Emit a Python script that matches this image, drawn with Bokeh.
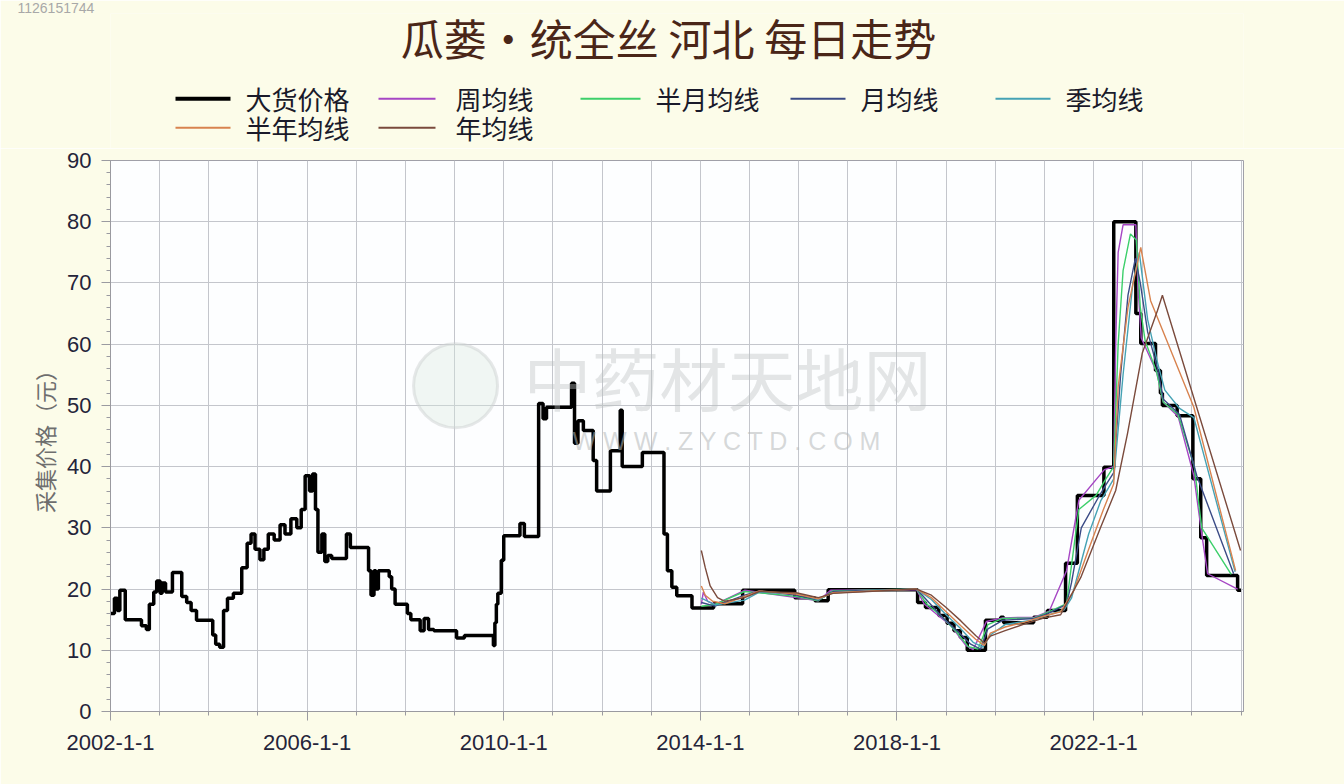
from bokeh.plotting import figure
from bokeh.layouts import column
from bokeh.models import Range1d, FixedTicker, CustomJSTickFormatter, Label
from bokeh.embed import file_html
from bokeh.resources import INLINE

# ---------------- data (decimal years, price in yuan) ----------------
price_t = [2002.01, 2002.08, 2002.14, 2002.19, 2002.30, 2002.63, 2002.73, 2002.79, 2002.88, 2002.94,
           2003.01, 2003.05, 2003.12, 2003.26, 2003.45, 2003.55, 2003.64, 2003.75, 2004.08, 2004.14,
           2004.22, 2004.30, 2004.38, 2004.50, 2004.67, 2004.78, 2004.86, 2004.94, 2005.04, 2005.12,
           2005.21, 2005.33, 2005.45, 2005.55, 2005.67, 2005.79, 2005.88, 2005.96, 2006.05, 2006.11,
           2006.17, 2006.22, 2006.30, 2006.36, 2006.42, 2006.50, 2006.80, 2006.88, 2007.25, 2007.30,
           2007.36, 2007.40, 2007.45, 2007.67, 2007.72, 2007.79, 2008.04, 2008.11, 2008.30, 2008.38,
           2008.47, 2008.58, 2009.04, 2009.20, 2009.79, 2009.82, 2009.85, 2009.88, 2009.95, 2010.00,
           2010.33, 2010.42, 2010.71, 2010.80, 2010.87, 2011.38, 2011.44, 2011.51, 2011.62, 2011.82,
           2011.89, 2012.17, 2012.37, 2012.41, 2012.82, 2013.26, 2013.33, 2013.42, 2013.52, 2013.83,
           2014.27, 2014.86, 2015.92, 2016.33, 2016.60, 2018.42, 2018.58, 2018.85, 2019.02, 2019.16,
           2019.29, 2019.43, 2019.80, 2020.11, 2020.17, 2020.78, 2021.06, 2021.43, 2021.67, 2022.21,
           2022.41, 2022.86, 2022.96, 2023.26, 2023.36, 2023.40, 2023.70, 2024.02, 2024.18, 2024.30,
           2024.93, 2025.00]
price_v = [16.0, 18.5, 16.5, 19.8, 15.0, 14.0, 13.4, 17.5, 19.5, 21.3,
           19.3, 21.0, 19.5, 22.7, 18.8, 17.8, 16.5, 14.9, 12.5, 11.0,
           10.5, 16.5, 18.5, 19.3, 23.5, 27.5, 29.0, 26.5, 24.8, 26.5,
           29.0, 28.0, 30.5, 29.0, 31.5, 30.0, 33.0, 38.5, 36.0, 38.8,
           33.0, 26.0, 29.0, 24.5, 25.5, 25.0, 29.0, 26.8, 23.0, 19.0,
           23.0, 20.0, 23.0, 22.0, 20.0, 17.5, 16.0, 15.0, 13.2, 15.2,
           13.4, 13.2, 12.0, 12.4, 10.8, 14.5, 17.5, 19.3, 24.7, 28.7,
           30.7, 28.6, 50.3, 47.8, 49.7, 53.6, 43.8, 47.5, 45.9, 41.0,
           36.0, 42.6, 49.2, 40.0, 42.3, 29.0, 23.0, 20.3, 18.9, 16.9,
           17.6, 19.8, 18.6, 18.1, 19.9, 17.8, 17.0, 15.7, 14.4, 13.2,
           12.1, 10.0, 14.9, 15.4, 14.5, 15.4, 16.5, 24.2, 35.3, 39.9,
           80.0, 65.0, 60.1, 55.7, 52.0, 50.0, 48.3, 38.0, 28.4, 22.2,
           19.8, 19.8]

week_t = [2014.02, 2014.06, 2014.15, 2014.30, 2014.90, 2015.95, 2016.40, 2016.65, 2018.40, 2018.55,
          2018.85, 2019.10, 2019.40, 2019.55, 2019.82, 2020.15, 2020.80, 2021.10, 2021.45, 2021.70,
          2022.22, 2022.41, 2022.45, 2022.50, 2022.60, 2022.86, 2022.90, 2022.97, 2023.28, 2023.42,
          2023.72, 2024.04, 2024.20, 2024.32, 2024.93]
week_v = [17.5, 19.5, 18.0, 17.5, 19.8, 18.6, 18.1, 19.8, 19.9, 17.6,
          15.6, 14.0, 10.8, 10.1, 14.7, 15.3, 15.4, 16.4, 23.0, 34.5,
          39.5, 40.0, 60.0, 75.0, 79.5, 79.5, 70.0, 61.0, 55.5, 50.5,
          48.2, 38.5, 29.0, 22.5, 20.0]

half_month_t = [2014.02, 2014.30, 2014.90, 2015.95, 2016.40, 2016.70, 2018.40, 2018.60, 2018.90, 2019.20,
                2019.45, 2019.65, 2019.85, 2020.15, 2020.80, 2021.10, 2021.45, 2021.52, 2021.70, 2022.05,
                2022.25, 2022.41, 2022.50, 2022.60, 2022.75, 2022.87, 2022.95, 2023.05, 2023.28, 2023.42,
                2023.72, 2024.05, 2024.20, 2024.80]
half_month_v = [17.2, 17.5, 19.6, 18.8, 18.1, 19.7, 20.0, 17.6, 15.6, 13.1,
                10.6, 10.2, 14.2, 15.2, 15.3, 16.3, 17.6, 22.0, 33.0, 35.3,
                38.0, 40.0, 60.0, 72.0, 78.0, 77.0, 66.0, 60.5, 55.5, 50.5,
                48.5, 40.0, 30.0, 22.4]

month_t = [2014.02, 2014.30, 2014.90, 2015.20, 2015.95, 2016.40, 2016.70, 2018.40, 2018.65, 2018.95,
           2019.25, 2019.50, 2019.70, 2019.85, 2020.15, 2020.80, 2021.10, 2021.45, 2021.55, 2021.75,
           2022.10, 2022.25, 2022.41, 2022.55, 2022.70, 2022.85, 2022.95, 2023.10, 2023.30, 2023.42,
           2023.75, 2024.10, 2024.85]
month_v = [17.8, 17.2, 19.0, 19.7, 19.0, 18.2, 19.6, 20.0, 17.8, 15.2,
           13.0, 11.0, 10.2, 13.5, 14.9, 15.2, 16.1, 17.5, 21.0, 30.0,
           35.0, 37.0, 39.0, 55.0, 68.0, 74.0, 70.0, 62.0, 56.0, 51.0,
           48.5, 38.5, 22.5]

quarter_t = [2014.02, 2014.30, 2014.90, 2015.20, 2015.95, 2016.40, 2016.70, 2018.40, 2018.70, 2019.00,
             2019.30, 2019.55, 2019.75, 2019.90, 2020.20, 2020.80, 2021.10, 2021.40, 2021.55, 2021.90,
             2022.15, 2022.30, 2022.41, 2022.60, 2022.80, 2022.93, 2023.10, 2023.30, 2023.45, 2023.75,
             2024.04, 2024.88]
quarter_v = [18.5, 17.4, 18.2, 19.5, 19.3, 18.3, 19.4, 20.0, 18.3, 15.8,
             13.5, 11.3, 10.5, 12.5, 14.2, 15.0, 15.8, 16.6, 18.5, 29.0,
             34.5, 36.5, 38.0, 55.0, 70.0, 75.0, 64.0, 57.0, 52.5, 49.5,
             48.0, 22.8]

half_year_t = [2014.02, 2014.10, 2014.25, 2014.50, 2014.90, 2015.20, 2015.95, 2016.40, 2016.70, 2018.40,
               2018.70, 2019.00, 2019.30, 2019.60, 2019.78, 2019.90, 2020.20, 2020.60, 2021.00, 2021.33,
               2021.60, 2021.90, 2022.20, 2022.41, 2022.50, 2022.70, 2022.96, 2023.16, 2024.04, 2024.89]
half_year_v = [20.5, 19.0, 18.0, 17.6, 18.8, 19.7, 19.2, 18.4, 19.4, 20.0,
               18.6, 16.3, 14.0, 11.8, 10.8, 12.8, 13.8, 14.6, 15.6, 16.3,
               19.8, 26.5, 33.0, 37.2, 53.0, 66.0, 75.8, 67.1, 49.7, 23.0]

year_t = [2014.02, 2014.10, 2014.20, 2014.35, 2014.50, 2014.90, 2015.20, 2015.95, 2016.40, 2016.70,
          2018.40, 2018.70, 2019.00, 2019.30, 2019.60, 2019.78, 2019.90, 2020.20, 2020.60, 2021.00,
          2021.33, 2021.74, 2022.14, 2022.45, 2022.69, 2022.99, 2023.30, 2023.40, 2024.99]
year_v = [26.3, 23.5, 20.5, 18.6, 18.0, 18.6, 19.6, 19.4, 18.6, 19.3,
          20.0, 19.0, 17.0, 14.8, 12.4, 11.2, 12.3, 13.2, 14.3, 15.3,
          15.8, 21.9, 30.0, 36.1, 45.4, 58.5, 65.5, 68.0, 26.3]

major_years = [2002, 2006, 2010, 2014, 2018, 2022]
all_years = list(range(2002, 2026))
y_major = [0, 10, 20, 30, 40, 50, 60, 70, 80, 90]
y_minor = list(range(0, 91, 2))

title_text = "瓜蒌·统全丝 河北 每日走势"
y_label = "采集价格（元）"
id_text = "1126151744"
series_names = ["大货价格", "周均线", "半月均线", "月均线", "季均线", "半年均线", "年均线"]
series_colors = ["#000000", "#a646c4", "#3ccf6a", "#3b4b86", "#45a2b4", "#d8834f", "#7a4a3c"]
series_widths = [4, 2, 2, 2, 2, 2, 2]

# legend layout (header pixel positions: key start, key end, text start, row)
key_x0 = [175, 378, 580, 790, 995, 175, 378]
key_x1 = [230, 435, 640, 845, 1050, 230, 435]
key_tx = [245, 455, 655, 860, 1065, 245, 455]
key_y = [100, 100, 100, 100, 100, 128, 128]

CJK = "Noto Sans CJK SC"
CREAM = "#fcfce9"
W = 1344
H = 784
HEAD_H = 148
FL, FR = 110, 101   # frame borders (shared by both stacked figures)

# ---------------- header (title + legend) ----------------
head = figure(width=W, height=HEAD_H, output_backend="svg", toolbar_location=None,
              x_range=Range1d(FL, W - FR), y_range=Range1d(HEAD_H, 18),
              x_axis_type=None, y_axis_type=None,
              min_border_left=FL, min_border_right=FR, min_border_top=0, min_border_bottom=0)
head.background_fill_color = CREAM
head.border_fill_color = CREAM
head.outline_line_color = None
head.xgrid.visible = False
head.ygrid.visible = False
head.title.text = id_text
head.title.align = "left"
head.title.offset = -(FL - 17)
head.title.standoff = 1
head.title.text_font = "Liberation Sans"
head.title.text_font_size = "14px"
head.title.text_font_style = "normal"
head.title.text_color = "#a8a8a8"

head.add_layout(Label(x=668, y=41, text=title_text, text_font=CJK, text_font_size="43px",
                      text_color="#4a2618", text_align="center", text_baseline="middle"))
head.segment(x0=key_x0, y0=key_y, x1=key_x1, y1=key_y, line_color=series_colors,
             line_width=series_widths)
head.text(x=key_tx, y=key_y, text=series_names, text_font_size="26px",
          text_color="#1a1a2a", text_baseline="middle", text_align="left",
          text_font={"value": CJK})

# ---------------- main chart ----------------
p = figure(width=W, height=H - HEAD_H, output_backend="svg", toolbar_location=None,
           x_range=Range1d(2002, 2025.05), y_range=Range1d(0, 90),
           min_border_left=FL, min_border_right=FR, min_border_top=12, min_border_bottom=73)
p.background_fill_color = "#fdfeff"
p.border_fill_color = CREAM
p.outline_line_color = "#a0a0a8"

p.xgrid.ticker = FixedTicker(ticks=all_years)
p.ygrid.ticker = FixedTicker(ticks=y_major)
p.xgrid.grid_line_color = "#c4c6cc"
p.ygrid.grid_line_color = "#c4c6cc"

xa = p.xaxis[0]
xa.ticker = FixedTicker(ticks=major_years, minor_ticks=all_years)
xa.formatter = CustomJSTickFormatter(code="return Math.round(tick) + '-1-1';")
ya = p.yaxis[0]
ya.ticker = FixedTicker(ticks=y_major, minor_ticks=y_minor)
ya.axis_label = y_label
ya.axis_label_text_font = CJK
ya.axis_label_text_font_size = "22px"
ya.axis_label_text_font_style = "normal"
ya.axis_label_text_color = "#6e6e6e"
ya.axis_label_standoff = 4
for ax in (xa, ya):
    ax.axis_line_color = "#9a9aa0"
    ax.major_tick_line_color = "#9a9aa0"
    ax.minor_tick_line_color = "#9a9aa0"
    ax.major_tick_out = 9
    ax.major_tick_in = 0
    ax.minor_tick_out = 4
    ax.minor_tick_in = 0
    ax.major_label_text_font = "Liberation Sans"
    ax.major_label_text_font_size = "22px"
    ax.major_label_text_color = "#24243a"
ya.major_label_standoff = 10
xa.major_label_standoff = 14

# watermark
p.scatter([2009.02], [53.2], size=84, marker="circle", fill_color="#d6e8dc", fill_alpha=0.35,
          line_color="#cdd2d2", line_alpha=0.5, line_width=3)
p.add_layout(Label(x=2014.55, y=54.8, text="中药材天地网", text_font=CJK, text_font_size="68px",
                   text_color="#bcc0c0", text_alpha=0.4, text_align="center", text_baseline="middle"))
p.add_layout(Label(x=2014.55, y=44.2, text="W W W . Z Y C T D . C O M", text_font="Liberation Sans",
                   text_font_size="25px", text_color="#b4b8b8", text_alpha=0.55,
                   text_align="center", text_baseline="middle"))

# series
p.step(price_t, price_v, mode="after", line_color=series_colors[0], line_width=3.5)
ma_data = [(week_t, week_v), (half_month_t, half_month_v), (month_t, month_v),
           (quarter_t, quarter_v), (half_year_t, half_year_v), (year_t, year_v)]
for (t, v), c in zip(ma_data, series_colors[1:]):
    p.line(t, v, line_color=c, line_width=1.4)

layout = column(head, p, spacing=0)
open("out.html", "w").write(file_html(layout, INLINE))
